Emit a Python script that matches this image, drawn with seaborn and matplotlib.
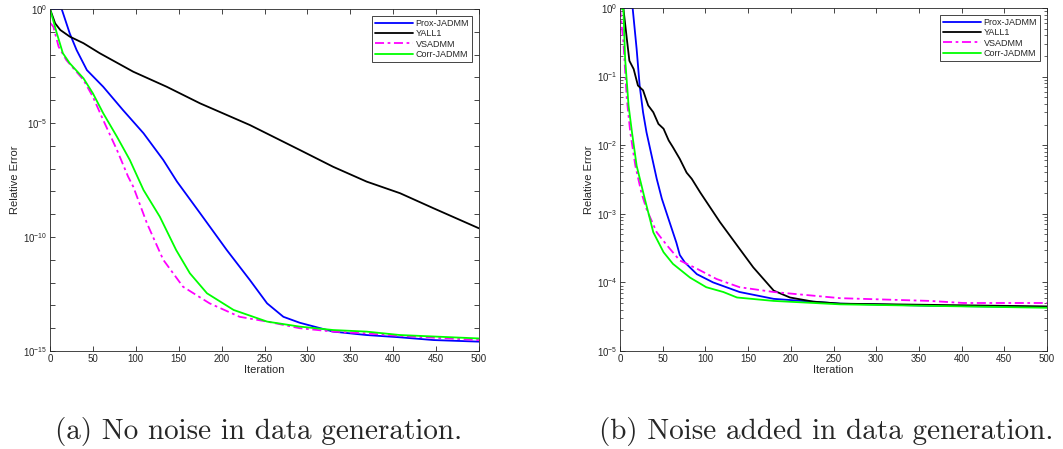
import numpy as np
import pandas as pd
import matplotlib
matplotlib.use("Agg")
import matplotlib.pyplot as plt
import matplotlib.ticker as mticker
import seaborn as sns

methods = ["Prox-JADMM", "YALL1", "VSADMM", "Corr-JADMM"]
colors = ["#0000ff", "#000000", "#ff00ff", "#00ff00"]

# (a) no noise: log10 of relative error
a_prox_it = [0, 10, 13.6, 23, 31, 43, 62, 85, 109, 132, 148, 175, 206, 233, 253, 272, 291, 330, 369, 408, 447, 500]
a_prox = [0.0, 0.0, 0.0, -1.07, -1.8, -2.68, -3.41, -4.43, -5.45, -6.62, -7.57, -8.96, -10.57, -11.89, -12.91, -13.5, -13.76, -14.15, -14.3, -14.4, -14.52, -14.59]
a_yall_it = [0, 6, 12, 23, 39, 58, 97, 136, 175, 233, 291, 330, 369, 408, 447, 500]
a_yall = [0.0, -0.63, -0.92, -1.21, -1.5, -1.94, -2.75, -3.41, -4.14, -5.09, -6.18, -6.92, -7.57, -8.08, -8.74, -9.62]
a_vs_it = [0, 4, 10, 19, 39, 50, 62, 78, 91, 97, 113, 132, 155, 186, 221, 253, 291, 330, 369, 408, 500]
a_vs = [-0.6, -0.78, -1.65, -2.24, -3.11, -3.85, -4.87, -6.18, -7.35, -7.79, -9.4, -11.0, -12.18, -12.91, -13.5, -13.71, -14.0, -14.15, -14.23, -14.34, -14.52]
a_corr_it = [0, 8, 15, 23, 39, 50, 62, 78, 93, 109, 128, 147, 163, 183, 214, 253, 291, 330, 369, 408, 500]
a_corr = [0.0, -1.07, -1.94, -2.38, -3.04, -3.7, -4.57, -5.6, -6.62, -7.94, -9.11, -10.57, -11.59, -12.47, -13.2, -13.71, -13.93, -14.08, -14.15, -14.3, -14.45]

# (b) noise added
b_prox_it = [0, 10, 14.8, 19.5, 23, 27, 31, 37, 43, 49, 58, 66, 70, 76, 90, 109, 140, 180, 258, 363, 500]
b_prox = [0.0, 0.0, 0.0, -0.6, -1.13, -1.52, -1.81, -2.15, -2.49, -2.78, -3.12, -3.42, -3.6, -3.71, -3.88, -4.0, -4.14, -4.24, -4.31, -4.34, -4.36]
b_yall_it = [0, 4, 8, 11, 16, 21, 27, 33, 39, 45, 51, 57, 62, 70, 78, 84, 94, 117, 140, 156, 180, 199, 226, 258, 500]
b_yall = [0.0, -0.01, -0.45, -0.77, -0.89, -1.13, -1.2, -1.42, -1.52, -1.69, -1.76, -1.93, -2.03, -2.2, -2.4, -2.49, -2.69, -3.12, -3.51, -3.78, -4.12, -4.22, -4.28, -4.31, -4.35]
b_vs_it = [0, 4, 8, 12, 18, 25, 31, 43, 55, 70, 90, 113, 140, 180, 258, 363, 402, 500]
b_vs = [0.0, -0.5, -1.33, -1.81, -2.3, -2.69, -2.93, -3.27, -3.46, -3.68, -3.8, -3.95, -4.07, -4.14, -4.23, -4.27, -4.3, -4.3]
b_corr_it = [0, 4, 6, 10, 14, 19.5, 29, 39, 51, 62, 82, 101, 121, 137, 180, 258, 500]
b_corr = [0.0, -0.02, -0.74, -1.42, -1.81, -2.3, -2.78, -3.27, -3.56, -3.73, -3.93, -4.07, -4.14, -4.22, -4.27, -4.32, -4.37]

panel_a = [(a_prox_it, a_prox), (a_yall_it, a_yall), (a_vs_it, a_vs), (a_corr_it, a_corr)]
panel_b = [(b_prox_it, b_prox), (b_yall_it, b_yall), (b_vs_it, b_vs), (b_corr_it, b_corr)]

captions = ["(a) No noise in data generation.", "(b) Noise added in data generation."]

sns.set_style("ticks")
plt.rcParams["font.family"] = ["Liberation Sans", "DejaVu Sans"]
plt.rcParams["mathtext.fontset"] = "custom"
plt.rcParams["mathtext.rm"] = "Liberation Sans"
plt.rcParams["mathtext.it"] = "Liberation Sans"

fig = plt.figure(figsize=(10.63, 4.49), dpi=100)
ax1 = fig.add_axes([50 / 1063, 1 - 351 / 449, 429 / 1063, 342 / 449])
ax2 = fig.add_axes([620 / 1063, 1 - 351 / 449, 427 / 1063, 343 / 449])


def draw(ax, panel):
    for (it, lv), name, c in zip(panel, methods, colors):
        df = pd.DataFrame({"Iteration": it, "err": np.power(10.0, lv)})
        ls = (0, (5, 2, 1.5, 2)) if name == "VSADMM" else "-"
        sns.lineplot(data=df, x="Iteration", y="err", ax=ax, color=c,
                     linewidth=1.3, linestyle=ls, label=name)
    ax.set_yscale("log")
    ax.set_xlim(0, 500)
    ax.set_xticks(np.arange(0, 501, 50))
    ax.set_xlabel("Iteration", fontsize=8, labelpad=1)
    ax.set_ylabel("Relative Error", fontsize=8, labelpad=2)
    ax.tick_params(which="both", direction="in", top=True, right=True,
                   labelsize=7, colors="#262626", pad=2)
    ax.tick_params(which="major", length=3.5, width=0.6)
    ax.tick_params(which="minor", length=2, width=0.5)
    for s in ax.spines.values():
        s.set_linewidth(0.6)
        s.set_color("#262626")
    leg = ax.legend(loc="upper right", fontsize=6.5, handlelength=4.2,
                    handletextpad=0.3, borderpad=0.3, labelspacing=0.15,
                    fancybox=False, framealpha=1, edgecolor="#262626",
                    borderaxespad=0.8)
    leg.get_frame().set_linewidth(0.6)


draw(ax1, panel_a)
ax1.set_ylim(1e-15, 1)
ax1.yaxis.set_major_locator(mticker.FixedLocator([10.0 ** -k for k in range(16)]))
ax1.yaxis.set_minor_locator(mticker.NullLocator())
ax1.yaxis.set_major_formatter(mticker.FuncFormatter(
    lambda v, p: "$10^{%d}$" % round(np.log10(v)) if round(np.log10(v)) % 5 == 0 else ""))

draw(ax2, panel_b)
ax2.set_ylim(1e-5, 1)
ax2.yaxis.set_major_locator(mticker.LogLocator(base=10, numticks=10))
ax2.yaxis.set_minor_locator(mticker.LogLocator(base=10, subs=np.arange(2, 10), numticks=10))
ax2.yaxis.set_minor_formatter(mticker.NullFormatter())
ax2.yaxis.set_major_formatter(mticker.FuncFormatter(
    lambda v, p: "$10^{%d}$" % round(np.log10(v))))

fig.text(55 / 1063, 1 - 439 / 449, captions[0], ha="left", va="baseline",
         fontsize=21, family=["cmr10", "DejaVu Serif"])
fig.text(1053 / 1063, 1 - 439 / 449, captions[1], ha="right", va="baseline",
         fontsize=21, family=["cmr10", "DejaVu Serif"])

fig.savefig("out.png", dpi=100, facecolor="white")
